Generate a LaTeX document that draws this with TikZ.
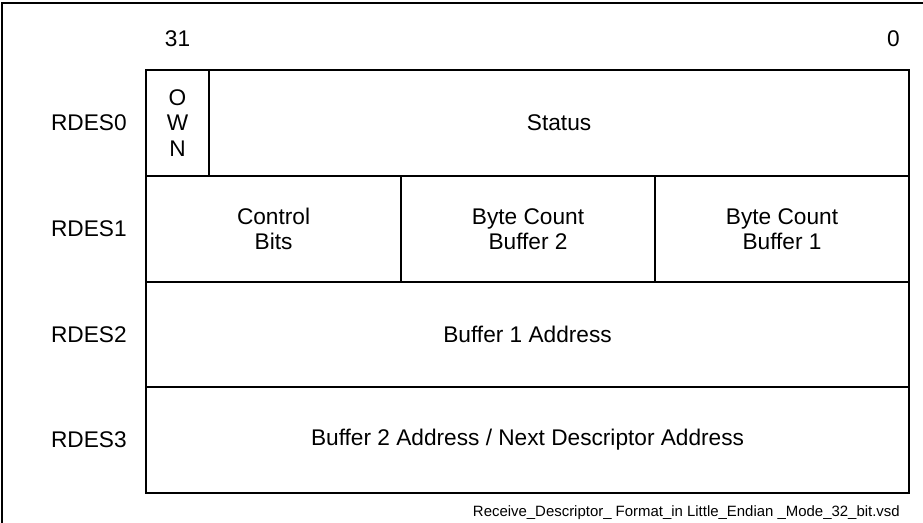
\documentclass[tikz,border=0pt]{standalone}
\usepackage{fontspec}
\setmainfont{Liberation Sans}
\usetikzlibrary{positioning}

\begin{document}
\begin{tikzpicture}[y=-1cm]
        \tikzset{field/.style={draw, line width=1.2pt, inner sep=0pt, anchor=north west,
                 align=center, font=\fontsize{12.9}{14.6}\selectfont},
                 lbl/.style={font=\fontsize{12.9}{14.6}\selectfont, inner sep=0pt}}
        \useasboundingbox (0,0) rectangle (18.46,10.46);
        \draw[line width=1.1pt] (0.04,10.8) -- (0.04,0.06) -- (18.8,0.06);
        \node[field, minimum width=1.26cm, minimum height=2.12cm] (own) at (2.9,1.38) {O\\W\\N};
        \node[field, minimum width=14cm, minimum height=2.12cm] (status) at (4.16,1.38) {Status};
        \node[field, minimum width=5.1cm, minimum height=2.12cm] (ctrl) at (2.9,3.5) {Control\\Bits};
        \node[field, minimum width=5.08cm, minimum height=2.12cm] (bc2) at (8.0,3.5) {Byte Count\\Buffer 2};
        \node[field, minimum width=5.08cm, minimum height=2.12cm] (bc1) at (13.08,3.5) {Byte Count\\Buffer 1};
        \node[field, minimum width=15.26cm, minimum height=2.1cm] (buf1) at (2.9,5.62) {Buffer 1 Address};
        \node[field, minimum width=15.26cm, minimum height=2.12cm] (buf2) at (2.9,7.72) {Buffer 2 Address / Next Descriptor Address};
        \node[lbl, anchor=south] (msb) at ([yshift=0.44cm]own.north) {31};
        \node[lbl, anchor=south east] (lsb) at ([xshift=-0.2cm,yshift=0.44cm]status.north east) {0};
        \node[lbl, left=0.36cm of own.west] (rdes0) {RDES0};
        \node[lbl, left=0.36cm of ctrl.west] (rdes1) {RDES1};
        \node[lbl, left=0.36cm of buf1.west] (rdes2) {RDES2};
        \node[lbl, left=0.36cm of buf2.west] (rdes3) {RDES3};
        \node[anchor=north east, inner sep=0pt, font=\fontsize{8.5}{10}\selectfont] (file)
            at ([xshift=-0.2cm,yshift=-0.22cm]buf2.south east)
            {Receive\_Descriptor\_ Format\_in Little\_Endian \_Mode\_32\_bit.vsd};
    \end{tikzpicture}
\end{document}
